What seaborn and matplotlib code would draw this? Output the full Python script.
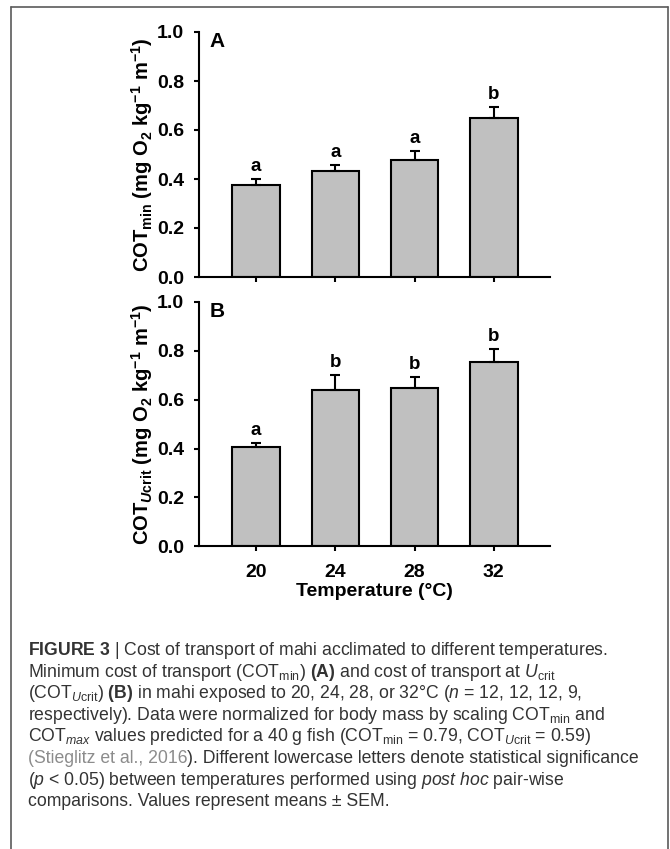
import matplotlib
matplotlib.use("Agg")
import matplotlib.pyplot as plt
import seaborn as sns
import numpy as np
import pandas as pd
from matplotlib import font_manager as fm
from matplotlib.lines import Line2D

# ---------------- data ----------------
temperatures = ["20", "24", "28", "32"]
cot_min = [0.377, 0.433, 0.476, 0.649]
cot_min_sem = [0.024, 0.025, 0.038, 0.045]
cot_min_letters = ["a", "a", "a", "b"]
cot_ucrit = [0.407, 0.638, 0.649, 0.754]
cot_ucrit_sem = [0.016, 0.064, 0.045, 0.053]
cot_ucrit_letters = ["a", "b", "b", "b"]
y_ticks = [0.0, 0.2, 0.4, 0.6, 0.8, 1.0]
panel_labels = ["A", "B"]
x_label = "Temperature (°C)"
y_label_a = r"COT$_{\mathbf{min}}$ (mg O$_{\mathbf{2}}$ kg$^{\mathbf{-1}}$ m$^{\mathbf{-1}}$)"
y_label_b = r"COT$_{\mathbfit{U}\mathbf{crit}}$ (mg O$_{\mathbf{2}}$ kg$^{\mathbf{-1}}$ m$^{\mathbf{-1}}$)"


def has_font(name):
    try:
        fm.findfont(fm.FontProperties(family=name), fallback_to_default=False)
        return True
    except Exception:
        return False


sns.set_style("ticks")
cap_font = "Liberation Sans Narrow" if has_font("Liberation Sans Narrow") else "Liberation Sans"
plt.rcParams["font.family"] = ["Liberation Sans", "DejaVu Sans"]
plt.rcParams["mathtext.fontset"] = "custom"
plt.rcParams["mathtext.rm"] = cap_font
plt.rcParams["mathtext.it"] = cap_font + ":italic"
plt.rcParams["mathtext.sf"] = cap_font + ":bold"
plt.rcParams["mathtext.bf"] = "Liberation Sans:bold"
plt.rcParams["mathtext.bfit"] = "Liberation Sans:italic:bold"
plt.rcParams["axes.edgecolor"] = "black"
plt.rcParams["xtick.color"] = "black"
plt.rcParams["ytick.color"] = "black"
plt.rcParams["text.color"] = "black"
plt.rcParams["axes.labelcolor"] = "black"

W, H = 670, 849
fig = plt.figure(figsize=(W / 100, H / 100), dpi=100)


def fx(px):
    return px / W


def fy(py):
    return 1 - py / H


ax_a = fig.add_axes([fx(199), fy(277), fx(550) - fx(199), fy(32) - fy(277)])
ax_b = fig.add_axes([fx(199), fy(546.2), fx(550) - fx(199), fy(302) - fy(546.2)])

panels = [
    (ax_a, cot_min, cot_min_sem, cot_min_letters, y_label_a, panel_labels[0]),
    (ax_b, cot_ucrit, cot_ucrit_sem, cot_ucrit_letters, y_label_b, panel_labels[1]),
]

for ax, vals, sem, letters, ylab, plab in panels:
    df = pd.DataFrame({"Temperature": temperatures, "value": vals})
    sns.barplot(data=df, x="Temperature", y="value", color="#c0c0c0",
                saturation=1, edgecolor="black", linewidth=1.5, width=0.6,
                errorbar=None, ax=ax, zorder=2)
    xs = np.arange(len(temperatures))
    ax.errorbar(xs, vals, yerr=[np.zeros(len(vals)), sem], fmt="none",
                ecolor="black", elinewidth=1.5, capsize=3.4, capthick=1.5,
                zorder=3)
    for x, v, s, lt in zip(xs, vals, sem, letters):
        ax.annotate(lt, xy=(x, v + s), xytext=(0, 3), textcoords="offset points",
                    ha="center", va="bottom", fontsize=13.5, fontweight="bold")
    ax.set_ylim(0, 1.0)
    ax.set_xlim(-0.72, 3.71)
    ax.set_yticks(y_ticks)
    ax.set_yticklabels([f"{t:.1f}" for t in y_ticks])
    ax.tick_params(axis="both", direction="out", length=3.6, width=1.5,
                   labelsize=14)
    ax.tick_params(axis="y", pad=7)
    ax.tick_params(axis="x", pad=9)
    for lbl in ax.get_yticklabels() + ax.get_xticklabels():
        lbl.set_fontweight("bold")
    for side in ["top", "right"]:
        ax.spines[side].set_visible(False)
    for side in ["left", "bottom"]:
        ax.spines[side].set_linewidth(1.5)
    ax.set_ylabel(ylab, fontsize=14.5, fontweight="bold", labelpad=1.5)
    ax.text(0.03, 1.0, plab, transform=ax.transAxes, ha="left", va="top",
            fontsize=15, fontweight="bold")
    ax.set_facecolor("none")

ax_a.set_xlabel("")
ax_a.set_xticklabels([])
ax_b.set_xlabel(x_label, fontsize=14, fontweight="bold", labelpad=1.5)

# ---------------- border ----------------
border_color = "#5a5a5a"
fig.add_artist(Line2D([fx(11), fx(11)], [fy(7), fy(860)], color=border_color, lw=1.2))
fig.add_artist(Line2D([fx(668), fx(668)], [fy(7), fy(860)], color=border_color, lw=1.2))
fig.add_artist(Line2D([fx(11), fx(668)], [fy(7), fy(7)], color=border_color, lw=1.2))

# ---------------- caption ----------------
cap_color = "#333333"
link_color = "#8c8c8c"
cap_size = 12.7
x0 = fx(28)
base0 = 655
step = 21.6
lines = [
    r"$\mathsf{FIGURE\ 3}$ | Cost of transport of mahi acclimated to different temperatures.",
    r"Minimum cost of transport (COT$_{\mathrm{min}}$) $\mathsf{(A)}$ and cost of transport at $\mathit{U}_{\mathrm{crit}}$",
    r"(COT$_{\mathit{U}\mathrm{crit}}$) $\mathsf{(B)}$ in mahi exposed to 20, 24, 28, or 32°C ($\mathit{n}$ = 12, 12, 12, 9,",
    r"respectively). Data were normalized for body mass by scaling COT$_{\mathrm{min}}$ and",
    r"COT$_{\mathit{max}}$ values predicted for a 40 g fish (COT$_{\mathrm{min}}$ = 0.79, COT$_{\mathit{U}\mathrm{crit}}$ = 0.59)",
    None,
    r"($\mathit{p}$ < 0.05) between temperatures performed using $\mathit{post\ hoc}$ pair-wise",
    "comparisons. Values represent means ± SEM.",
]
renderer = fig.canvas.get_renderer()
for i, ln in enumerate(lines):
    yb = fy(base0 + step * i)
    if ln is None:
        t1 = fig.text(x0, yb, "(Stieglitz et al., 2016", fontsize=cap_size,
                      family=cap_font, color=link_color, va="baseline", ha="left")
        bb = t1.get_window_extent(renderer=renderer)
        fig.text(bb.x1 / fig.dpi / fig.get_figwidth(), yb,
                 "). Different lowercase letters denote statistical significance",
                 fontsize=cap_size, family=cap_font, color=cap_color,
                 va="baseline", ha="left")
    else:
        fig.text(x0, yb, ln, fontsize=cap_size, family=cap_font, color=cap_color,
                 va="baseline", ha="left")

fig.savefig("out.png", dpi=100)
